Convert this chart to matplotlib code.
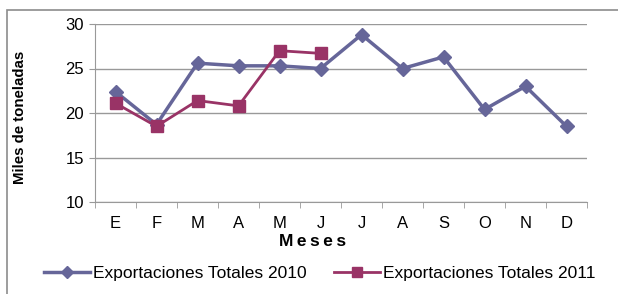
import numpy as np
import matplotlib
matplotlib.use("Agg")
import matplotlib.pyplot as plt
from matplotlib.patches import Rectangle

meses = ["E", "F", "M", "A", "M", "J", "J", "A", "S", "O", "N", "D"]
exp_2010 = [22.4, 18.7, 25.6, 25.3, 25.3, 25.0, 28.8, 25.0, 26.3, 20.4, 23.0, 18.5]
exp_2011 = [21.1, 18.5, 21.4, 20.8, 27.0, 26.7]

plt.rcParams["font.family"] = ["Liberation Sans", "DejaVu Sans"]

W, H = 618, 294
fig = plt.figure(figsize=(W / 100, H / 100), dpi=100)

# chart frame (runs off the right and bottom edge in the original)
fig.patches.append(Rectangle((7 / W, -0.1), 1.1, 1 - 10 / H + 0.1, transform=fig.transFigure,
                             fill=False, edgecolor="#8c8c8c", linewidth=1.2))

ax = fig.add_axes([95 / W, 1 - 202 / H, (587 - 95) / W, (202 - 24) / H])
x = np.arange(len(meses))

ax.plot(x, exp_2010, color="#666699", lw=2.5, marker="D", ms=7.5,
        label="Exportaciones Totales 2010", zorder=3)
ax.plot(x[:len(exp_2011)], exp_2011, color="#993366", lw=2.0, marker="s", ms=8.5,
        label="Exportaciones Totales 2011", zorder=4)

ax.set_xlim(-0.5, 11.5)
ax.set_ylim(10, 30)
ax.set_yticks([10, 15, 20, 25, 30])
ax.grid(axis="y", color="#999999", lw=1)
ax.set_axisbelow(True)

ax.set_xticks(x)
ax.set_xticklabels(meses, fontsize=12)
ax.tick_params(axis="x", length=0, pad=10)
ax.set_xticks(np.arange(-0.5, 12, 1), minor=True)
ax.tick_params(axis="x", which="minor", length=4, color="#999999", direction="out")
ax.tick_params(axis="y", labelsize=12, length=4, color="#999999", pad=4)

for s in ["top", "right"]:
    ax.spines[s].set_visible(False)
for s in ["left", "bottom"]:
    ax.spines[s].set_color("#999999")

fig.text(313 / W, 1 - 242 / H, "M e s e s".replace(" ", "\u2009"), ha="center", va="center",
         fontsize=12.5, fontweight="bold")
fig.text(20 / W, 1 - 117 / H, "Miles de toneladas", ha="center", va="center",
         rotation=90, fontsize=10.8, fontweight="bold")

fig.legend(loc="center", bbox_to_anchor=(320 / W, 1 - 273 / H), ncol=2,
           frameon=False, fontsize=12.5, handlelength=2.6, handletextpad=0.2,
           columnspacing=1.6, markerscale=0.85)

fig.savefig("out.png", dpi=100)
